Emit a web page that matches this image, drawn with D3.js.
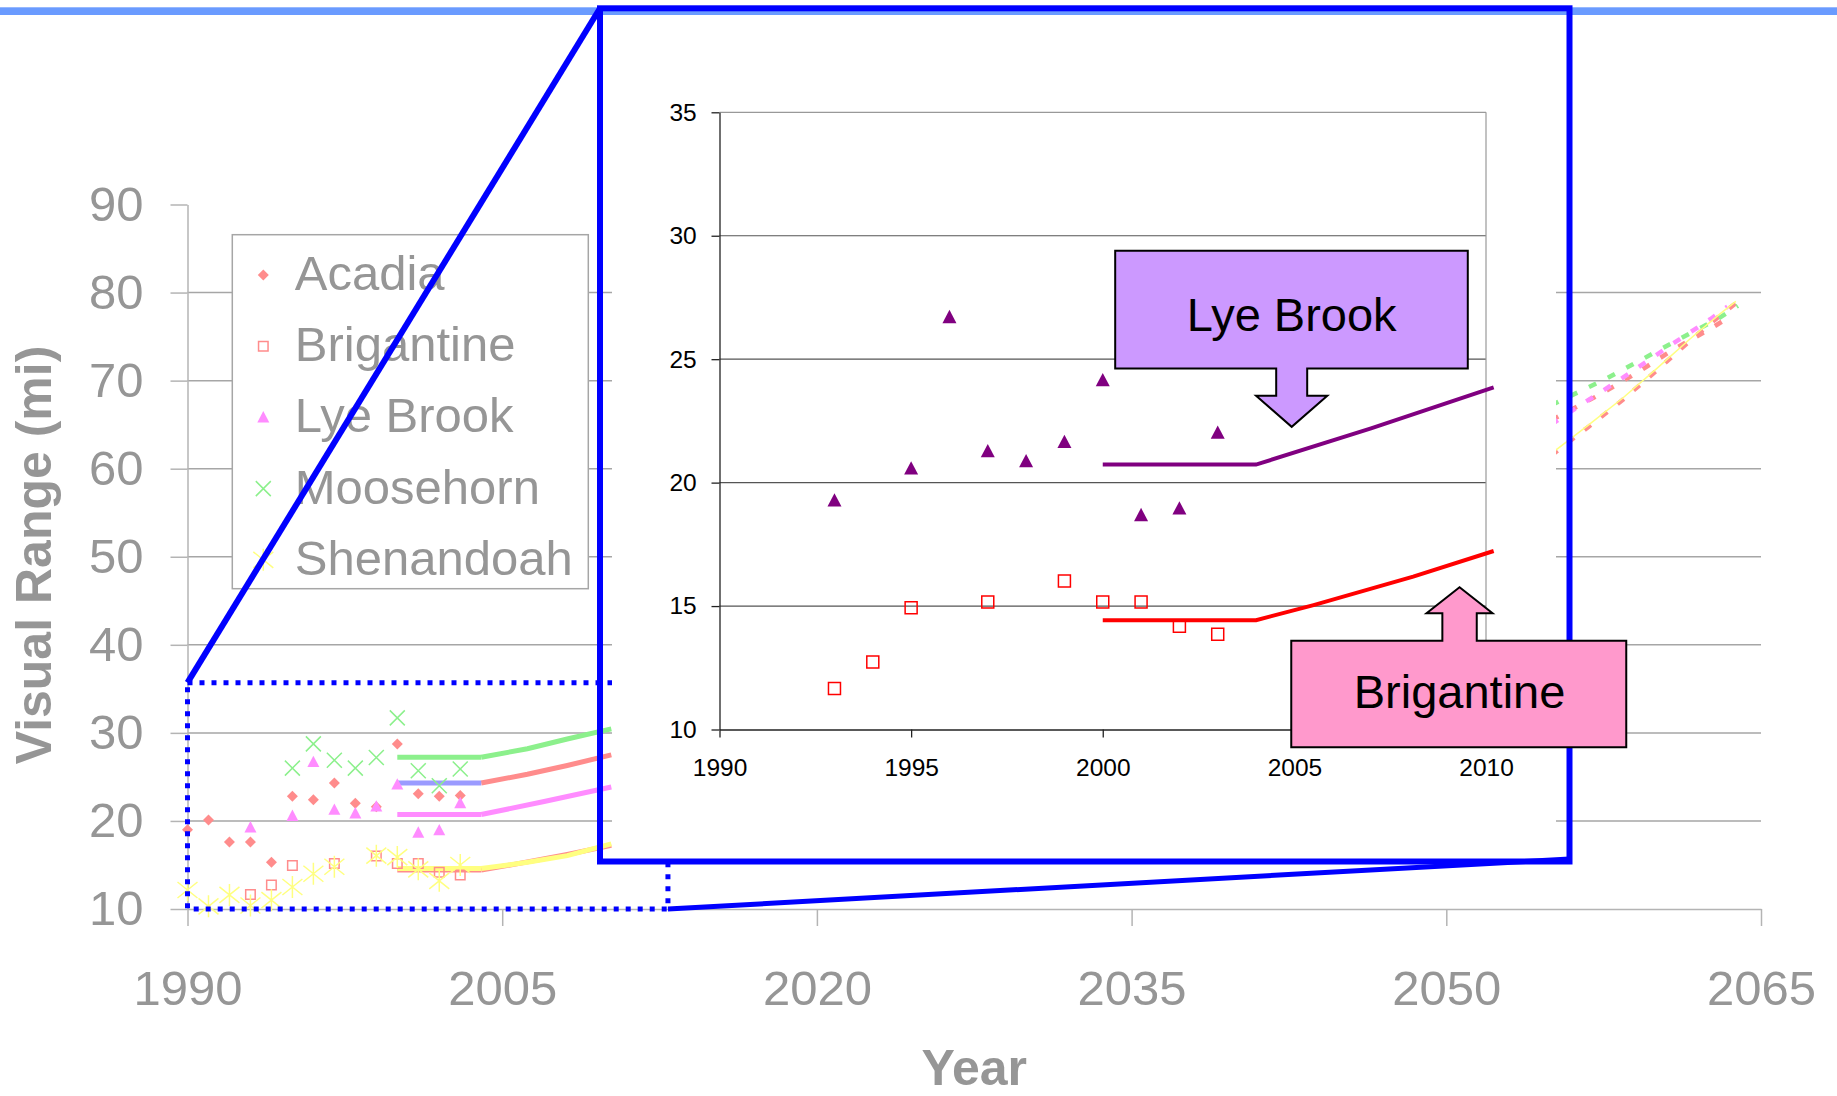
<!DOCTYPE html>
<html>
<head>
<meta charset="utf-8">
<title>Visual Range</title>
<script src="https://cdn.jsdelivr.net/npm/d3@7"></script>
<style>
  body { margin: 0; background: #fff; }
  svg { display: block; font-family: "Liberation Sans", Arial, sans-serif; }
</style>
</head>
<body>
<svg id="svg"></svg>
<script>
// measured visual range (mi), [year, value]
const acadia = [[1990, 19.0], [1991, 20.1], [1992, 17.6], [1993, 17.6], [1994, 15.3], [1995, 22.8], [1996, 22.4],
  [1997, 24.3], [1998, 22.0], [1999, 21.6], [2000, 28.75], [2001, 23.1], [2002, 22.8], [2003, 22.9]]
const brigantine = [[1993, 11.66], [1994, 12.73], [1995, 14.93], [1997, 15.16], [1999, 16.02], [2000, 15.16],
  [2001, 15.16], [2002, 14.18], [2003, 13.86]]
const lyeBrook = [[1993, 19.27], [1995, 20.57], [1996, 26.7], [1997, 21.27], [1998, 20.86], [1999, 21.64],
  [2000, 24.14], [2001, 18.68], [2002, 18.95], [2003, 22.02]]
const moosehorn = [[1995, 26.0], [1996, 28.75], [1997, 26.9], [1998, 26.0], [1999, 27.2], [2000, 31.7],
  [2001, 25.7], [2002, 24.0], [2003, 25.9]]
const shenandoah = [[1990, 12.16], [1991, 10.3], [1992, 11.6], [1993, 10.4], [1994, 11.0], [1995, 12.5],
  [1996, 14.0], [1997, 14.8], [1999, 16.06], [2000, 15.9], [2001, 14.5], [2002, 13.2], [2003, 15.0]]

const siteNames = ['Acadia', 'Brigantine', 'Lye Brook', 'Moosehorn', 'Shenandoah']

// baseline 2000-2004, same order as siteNames
const baselineYears = [2000, 2004]
const baselineValues = [24.3, 14.43, 20.73, 27.23, 14.6]

// glide path, solid part
const acadiaGlide = [[2004, 24.3], [2006.2, 25.3], [2008.1, 26.3], [2010.2, 27.5]]
const brigantineGlide = [[2004, 14.43], [2005.5, 15.04], [2008.1, 16.19], [2010.2, 17.23]]
const lyeBrookGlide = [[2004, 20.73], [2007, 22.2], [2010.2, 23.86]]
const moosehornGlide = [[2004, 27.23], [2006.2, 28.2], [2008.1, 29.3], [2010.2, 30.45]]
const shenandoahGlide = [[2004, 14.6], [2006.2, 15.3], [2008.1, 16.06], [2010.2, 17.4]]

// glide path, dashed end near 2064
const acadiaProj = [[2055, 65.5], [2057.3, 68.4], [2059.1, 70.9], [2060.8, 73.5], [2062.6, 75.9], [2063.4, 77.1]]
const brigantineProj = [[2055, 61.5], [2056.8, 64.8], [2058.4, 67.8], [2060, 71.1], [2061.6, 74.5], [2063, 77.3], [2063.8, 78.8]]
const lyeBrookProj = [[2055, 65.0], [2056, 66.6], [2058.4, 70.3], [2060.8, 74.2], [2062.6, 77.0], [2063.4, 78.4]]
const moosehornProj = [[2055, 67.2], [2057.6, 70.2], [2059.4, 72.5], [2061.1, 74.7], [2063, 77.1], [2063.9, 78.5]]
const shenandoahProj = [[2055, 61.7], [2056.8, 65.0], [2058.4, 68.0], [2060, 71.3], [2061.6, 74.7], [2063, 77.5], [2063.8, 79.0]]

const yTicks = [10, 20, 30, 40, 50, 60, 70, 80, 90]
const xTicks = [1990, 2005, 2020, 2035, 2050, 2065]
const insetYTicks = [10, 15, 20, 25, 30, 35]
const insetXTicks = [1990, 1995, 2000, 2005, 2010]

const width = 1837, height = 1096
const gray = '#969696'
const fontFamily = '"Liberation Sans", Arial, sans-serif'

const svg = d3.select('#svg').attr('width', width).attr('height', height)

const x = d3.scaleLinear().domain([1990, 2065]).range([187.5, 1761])
const y = d3.scaleLinear().domain([10, 90]).range([909, 204.5])

const colors = d3.scaleOrdinal().domain(siteNames)
  .range(['#ff8c8c', '#ff8c8c', '#ff8cff', '#8cf08c', '#ffff80'])
const shapes = d3.scaleOrdinal().domain(siteNames)
  .range(['diamond', 'square', 'triangle', 'x', 'asterisk'])
const sizes = d3.scaleOrdinal().domain(siteNames).range([11, 9.5, 12, 15, 20])

function symbolPath(type, s) {
  const h = s / 2
  if (type === 'diamond') return `M0,${-h}L${h},0L0,${h}L${-h},0Z`
  if (type === 'square') return `M${-h},${-h}H${h}V${h}H${-h}Z`
  if (type === 'triangle') return `M0,${-h * 1.05}L${h},${h * 0.85}L${-h},${h * 0.85}Z`
  if (type === 'x') return `M${-h},${-h}L${h},${h}M${-h},${h}L${h},${-h}`
  return `M0,${-h * 1.1}V${h * 1.1}M${-h},${-h * 0.8}L${h},${h * 0.8}M${-h},${h * 0.8}L${h},${-h * 0.8}`
}
const filled = t => t === 'diamond' || t === 'triangle'

function drawPoints(g, data, type, size, color, sx, sy) {
  g.append('g').selectAll('path').data(data).join('path')
    .attr('transform', d => `translate(${sx(d[0])},${sy(d[1])})`)
    .attr('d', symbolPath(type, size))
    .attr('fill', filled(type) ? color : 'none')
    .attr('stroke', filled(type) ? 'none' : color)
    .attr('stroke-width', 1.5)
}

function styleAxis(a, color, size) {
  a.attr('font-family', fontFamily).attr('font-size', size)
  a.selectAll('text').attr('fill', color)
}

// ---------- main chart ----------
const main = svg.append('g')

main.append('g').selectAll('line')
  .data(yTicks.filter(v => v > 10 && v < 90))
  .join('line')
    .attr('x1', x(1990)).attr('x2', x(2065))
    .attr('y1', d => y(d)).attr('y2', d => y(d))
    .attr('stroke', '#a6a6a6').attr('stroke-width', 1.5)

const yAxis = main.append('g')
  .attr('transform', `translate(${x(1990)},0)`)
  .call(d3.axisLeft(y).tickValues(yTicks).tickSize(17).tickSizeOuter(0).tickPadding(27))
const xAxis = main.append('g')
  .attr('transform', `translate(0,${y(10)})`)
  .call(d3.axisBottom(x).tickValues(xTicks).tickFormat(d3.format('d')).tickSize(17).tickSizeOuter(0).tickPadding(44))
;[yAxis, xAxis].forEach(a => {
  styleAxis(a, gray, 49)
  a.selectAll('path, line').attr('stroke', '#b4b4b4').attr('stroke-width', 1.5)
})

main.append('text')
  .attr('transform', `translate(50.6,555) rotate(-90)`)
  .attr('text-anchor', 'middle')
  .attr('font-size', 50).attr('font-weight', 'bold').attr('fill', gray)
  .text('Visual Range (mi)')
main.append('text')
  .attr('x', (x(1990) + x(2065)) / 2).attr('y', 1085)
  .attr('text-anchor', 'middle')
  .attr('font-size', 50).attr('font-weight', 'bold').attr('fill', gray)
  .text('Year')

const line = d3.line().x(d => x(d[0])).y(d => y(d[1]))
const glides = [acadiaGlide, brigantineGlide, lyeBrookGlide, moosehornGlide, shenandoahGlide]
const projs = [acadiaProj, brigantineProj, lyeBrookProj, moosehornProj, shenandoahProj]

siteNames.forEach((name, i) => {
  main.append('path')
    .attr('d', line(glides[i]))
    .attr('fill', 'none').attr('stroke', colors(name)).attr('stroke-width', 5)
  main.append('path')
    .attr('d', line(baselineYears.map(yr => [yr, baselineValues[i]])))
    .attr('fill', 'none').attr('stroke', name === 'Acadia' ? '#9b9bff' : colors(name)).attr('stroke-width', 5)
  const thin = name === 'Shenandoah'
  main.append('path')
    .attr('d', line(projs[i]))
    .attr('fill', 'none').attr('stroke', colors(name))
    .attr('stroke-width', thin ? 1.5 : 4.5)
    .attr('stroke-dasharray', thin ? null : '8,13')
})

const sites = [acadia, brigantine, lyeBrook, moosehorn, shenandoah]
siteNames.forEach((name, i) => {
  drawPoints(main, sites[i], shapes(name), sizes(name), colors(name), x, y)
})

// legend
const legend = main.append('g')
legend.append('rect')
  .attr('x', 232.3).attr('y', 234.7).attr('width', 356).attr('height', 354)
  .attr('fill', '#fff').attr('stroke', '#a6a6a6').attr('stroke-width', 1.5)
siteNames.forEach((name, i) => {
  const row = legend.append('g').attr('transform', `translate(263.3,${275 + i * 71.2})`)
  row.append('path')
    .attr('d', symbolPath(shapes(name), sizes(name)))
    .attr('fill', filled(shapes(name)) ? colors(name) : 'none')
    .attr('stroke', filled(shapes(name)) ? 'none' : colors(name))
    .attr('stroke-width', 1.5)
  row.append('text')
    .attr('x', 31.5).attr('y', 15)
    .attr('font-size', 49).attr('fill', gray)
    .text(name)
})

// zoom window on main chart
const zoomX = [1990, 2012.9], zoomY = [10, 35.7]
main.append('rect')
  .attr('x', x(zoomX[0])).attr('y', y(zoomY[1]))
  .attr('width', x(zoomX[1]) - x(zoomX[0])).attr('height', y(zoomY[0]) - y(zoomY[1]))
  .attr('fill', 'none').attr('stroke', '#0000ff').attr('stroke-width', 5)
  .attr('stroke-dasharray', '5,7')

// ---------- top band ----------
svg.append('rect').attr('x', 0).attr('y', 7.3).attr('width', width).attr('height', 7.7).attr('fill', '#6a9bff')

// ---------- inset ----------
const box = {left: 600, top: 8.3, right: 1569.5, bottom: 861.5}
const inset = svg.append('g')
inset.append('rect').attr('x', 612).attr('y', 15).attr('width', 944).attr('height', 844).attr('fill', '#fff')

const ix = d3.scaleLinear().domain([1990, 2010]).range([719.5, 1486])
const iy = d3.scaleLinear().domain([10, 35]).range([729.5, 112.3])

inset.append('g').selectAll('line')
  .data([15, 20, 25, 30])
  .join('line')
    .attr('x1', ix(1990)).attr('x2', ix(2010))
    .attr('y1', d => iy(d)).attr('y2', d => iy(d))
    .attr('stroke', '#555').attr('stroke-width', 1.2)
inset.append('line')
  .attr('x1', ix(1990)).attr('x2', ix(2010)).attr('y1', iy(35)).attr('y2', iy(35))
  .attr('stroke', '#999').attr('stroke-width', 1.2)
inset.append('line')
  .attr('x1', ix(2010)).attr('x2', ix(2010)).attr('y1', iy(35)).attr('y2', iy(10))
  .attr('stroke', '#999').attr('stroke-width', 1.2)

const iyAxis = inset.append('g')
  .attr('transform', `translate(${ix(1990)},0)`)
  .call(d3.axisLeft(iy).tickValues(insetYTicks).tickSize(8).tickSizeOuter(0).tickPadding(14.8))
const ixAxis = inset.append('g')
  .attr('transform', `translate(0,${iy(10)})`)
  .call(d3.axisBottom(ix).tickValues(insetXTicks).tickFormat(d3.format('d')).tickSize(8).tickSizeOuter(0).tickPadding(21.5))
;[iyAxis, ixAxis].forEach(a => {
  styleAxis(a, '#000', 24.5)
  a.selectAll('path, line').attr('stroke', '#222').attr('stroke-width', 1.3)
})

const iline = d3.line().x(d => ix(d[0])).y(d => iy(d[1]))
const insetSites = [
  {data: lyeBrook, glide: lyeBrookGlide, base: baselineValues[2], color: '#800080', type: 'triangle', size: 14},
  {data: brigantine, glide: brigantineGlide, base: baselineValues[1], color: '#ff0000', type: 'square', size: 12}
]
insetSites.forEach(s => {
  inset.append('path')
    .attr('d', iline(baselineYears.map(yr => [yr, s.base]).concat(s.glide.slice(1))))
    .attr('fill', 'none').attr('stroke', s.color).attr('stroke-width', 4)
  drawPoints(inset, s.data, s.type, s.size, s.color, ix, iy)
})

inset.append('rect')
  .attr('x', box.left).attr('y', box.top)
  .attr('width', box.right - box.left).attr('height', box.bottom - box.top)
  .attr('fill', 'none').attr('stroke', '#0000ff').attr('stroke-width', 6)

// connectors from zoom window to inset
svg.append('line')
  .attr('x1', x(zoomX[0])).attr('y1', y(zoomY[1])).attr('x2', box.left).attr('y2', box.top)
  .attr('stroke', '#0000ff').attr('stroke-width', 6)
svg.append('line')
  .attr('x1', x(zoomX[1])).attr('y1', y(zoomY[0])).attr('x2', box.right).attr('y2', box.bottom - 2.5)
  .attr('stroke', '#0000ff').attr('stroke-width', 5)

// ---------- callouts ----------
function callout(tip, dir, b, shaftW, headW, headH, fill, label, textDy) {
  const [tx, ty] = tip
  // dir -1: arrow points down (box above), 1: arrow points up (box below)
  const edge = dir < 0 ? b.bottom : b.top
  const headBase = ty + dir * headH
  const pts = dir < 0
    ? [[b.left, b.top], [b.right, b.top], [b.right, edge], [tx + shaftW, edge], [tx + shaftW, headBase],
       [tx + headW, headBase], [tx, ty], [tx - headW, headBase], [tx - shaftW, headBase], [tx - shaftW, edge], [b.left, edge]]
    : [[b.left, b.bottom], [b.left, edge], [tx - shaftW, edge], [tx - shaftW, headBase], [tx - headW, headBase],
       [tx, ty], [tx + headW, headBase], [tx + shaftW, headBase], [tx + shaftW, edge], [b.right, edge], [b.right, b.bottom]]
  svg.append('path')
    .attr('d', d3.line()(pts) + 'Z')
    .attr('fill', fill).attr('stroke', '#000').attr('stroke-width', 2)
  svg.append('text')
    .attr('x', tx).attr('y', ty + textDy)
    .attr('text-anchor', 'middle').attr('font-size', 47).attr('fill', '#000')
    .text(label)
}

const lyeTip = [ix(2004.93), iy(22.26)]
callout(lyeTip, -1,
  {left: lyeTip[0] - 176.5, right: lyeTip[0] + 176.1, top: lyeTip[1] - 176.2, bottom: lyeTip[1] - 58.3},
  15.5, 35.6, 31, '#cc99ff', 'Lye Brook', -96)

const brigTip = [ix(2009.31), iy(15.76)]
callout(brigTip, 1,
  {left: brigTip[0] - 168.3, right: brigTip[0] + 166.7, top: brigTip[1] + 53.4, bottom: brigTip[1] + 160},
  17.2, 33, 26, '#ff99cc', 'Brigantine', 121)
</script>
</body>
</html>
